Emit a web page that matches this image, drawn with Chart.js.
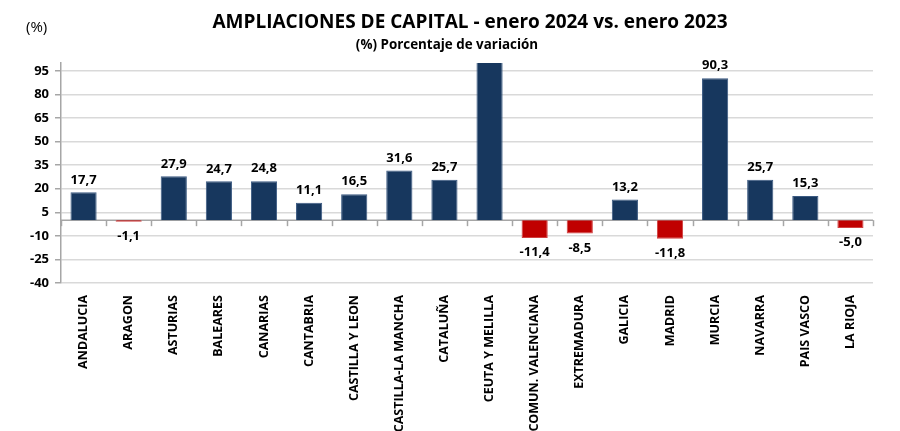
<!DOCTYPE html>
<html><head><meta charset="utf-8">
<script src="https://cdn.jsdelivr.net/npm/chart.js@4"></script>
<style>html,body{margin:0;padding:0;background:#fff}#wrap{width:900px;height:431px}</style>
</head><body><div id="wrap"><canvas id="c" width="900" height="431"></canvas></div>
<script>
const categories = ["ANDALUCIA","ARAGON","ASTURIAS","BALEARES","CANARIAS","CANTABRIA","CASTILLA Y LEON","CASTILLA-LA MANCHA","CATALUÑA","CEUTA Y MELILLA","COMUN. VALENCIANA","EXTREMADURA","GALICIA","MADRID","MURCIA","NAVARRA","PAIS VASCO","LA RIOJA"];
const variation = [17.7,-1.1,27.9,24.7,24.8,11.1,16.5,31.6,25.7,150,-11.4,-8.5,13.2,-11.8,90.3,25.7,15.3,-5.0];
const yTicks = [-40,-25,-10,5,20,35,50,65,80,95];
const titleText = "AMPLIACIONES DE CAPITAL - enero 2024 vs. enero 2023";
const subtitleText = "(%) Porcentaje de variación";
const unitText = "(%)";

const FONT = "'Open Sans', sans-serif";
const NAVY = "#17375E", RED = "#C00000";

const extras = {
  id: 'extras',
  beforeDatasetsDraw(chart) {
    const ctx = chart.ctx, y = chart.scales.y, area = chart.chartArea;
    const y0 = y.getPixelForValue(0);
    ctx.save();
    ctx.strokeStyle = '#a6a6a6'; ctx.lineWidth = 1.5;
    ctx.beginPath(); ctx.moveTo(area.left, y0); ctx.lineTo(area.right, y0); ctx.stroke();
    const n = categories.length, w = (area.right - area.left) / n;
    for (let i = 0; i <= n; i++) {
      const xp = Math.round(area.left + i * w) + 0.5;
      ctx.beginPath(); ctx.moveTo(xp, y0); ctx.lineTo(xp, y0 + 6); ctx.stroke();
    }
    ctx.restore();
  },
  afterDatasetsDraw(chart) {
    const ctx = chart.ctx, y = chart.scales.y;
    ctx.save();
    const meta = chart.getDatasetMeta(0);
    ctx.fillStyle = '#000'; ctx.font = "bold 13px " + FONT; ctx.textAlign = 'center';
    meta.data.forEach((bar, i) => {
      const v = variation[i];
      if (v > y.max || v < y.min) return;
      const txt = v.toFixed(1).replace('.', ',');
      if (v >= 0) { ctx.textBaseline = 'bottom'; ctx.fillText(txt, bar.x, bar.y - 6); }
      else { ctx.textBaseline = 'top'; ctx.fillText(txt, bar.x, bar.y + 8); }
    });
    ctx.textBaseline = 'middle';
    ctx.font = "bold 19px " + FONT; ctx.fillText(titleText, 470, 23);
    ctx.font = "bold 13.4px " + FONT; ctx.fillText(subtitleText, 447, 45);
    ctx.font = "15px " + FONT; ctx.textAlign = 'left'; ctx.fillText(unitText, 26, 28);
    ctx.restore();
  }
};

new Chart(document.getElementById('c'), {
  type: 'bar',
  data: {
    labels: categories,
    datasets: [{
      data: variation,
      backgroundColor: variation.map(v => v < 0 ? RED : NAVY),
      borderColor: variation.map(v => v < 0 ? '#d04040' : '#3b5a82'),
      borderWidth: 1,
      barPercentage: 0.58,
      categoryPercentage: 1.0
    }]
  },
  options: {
    responsive: false,
    animation: false,
    layout: { padding: { top: 63, right: 27, left: 0, bottom: 0 } },
    plugins: { legend: { display: false }, tooltip: { enabled: false }, title: { display: false } },
    scales: {
      x: {
        grid: { display: false },
        border: { display: false },
        ticks: { autoSkip: false, maxRotation: 90, minRotation: 90, color: '#000', font: { family: FONT, size: 12.5, weight: 'bold' }, padding: 4 },
        afterFit(s) { s.height = 148; }
      },
      y: {
        min: -40, max: 100,
        afterBuildTicks(s) { s.ticks = yTicks.map(v => ({ value: v })); },
        grid: { color: '#d9d9d9', lineWidth: 1.5, tickLength: 6, tickColor: '#a6a6a6' },
        border: { display: true, color: '#a6a6a6', width: 1.5 },
        ticks: { color: '#000', font: { family: FONT, size: 13, weight: 'bold' }, padding: 6 },
        afterFit(s) { s.width = 61; }
      }
    }
  },
  plugins: [extras]
});
</script></body></html>
